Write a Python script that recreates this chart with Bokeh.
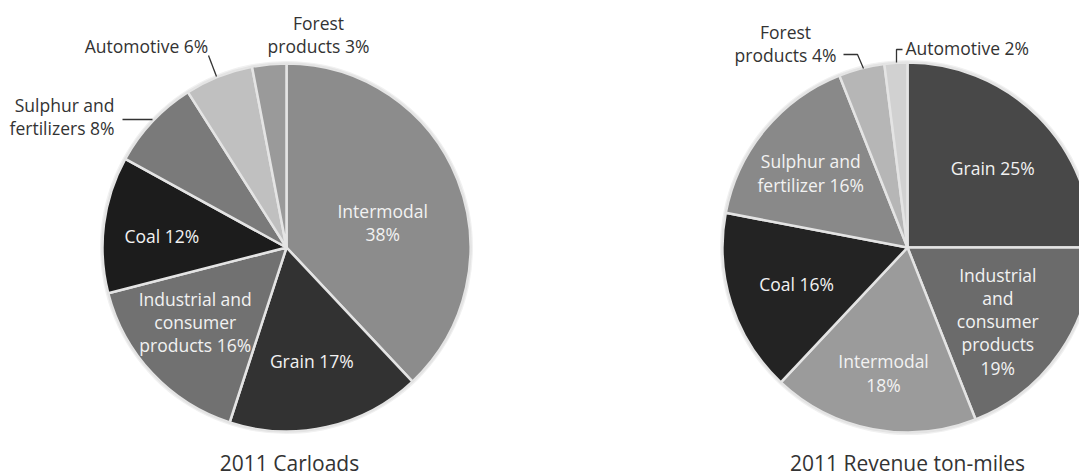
import numpy as np
from bokeh.plotting import figure
from bokeh.models import Range1d
from bokeh.core.properties import value
from bokeh.embed import file_html
from bokeh.resources import INLINE

W, H = 1079, 476

# ---------------- data ----------------
car_categories = ["Intermodal", "Grain", "Industrial and consumer products", "Coal",
                  "Sulphur and fertilizers", "Automotive", "Forest products"]
car_values = [38, 17, 16, 12, 8, 6, 3]
car_labels = ["Intermodal\n38%", "Grain 17%", "Industrial and\nconsumer\nproducts 16%", "Coal 12%",
              "Sulphur and\nfertilizers 8%", "Automotive 6%", "Forest\nproducts 3%"]
car_title = "2011 Carloads"

rtm_categories = ["Grain", "Industrial and consumer products", "Intermodal", "Coal",
                  "Sulphur and fertilizer", "Forest products", "Automotive"]
rtm_values = [25, 19, 18, 16, 16, 4, 2]
rtm_labels = ["Grain 25%", "Industrial\nand\nconsumer\nproducts\n19%", "Intermodal\n18%", "Coal 16%",
              "Sulphur and\nfertilizer 16%", "Forest\nproducts 4%", "Automotive 2%"]
rtm_title = "2011 Revenue ton-miles"

# ---------------- styles / layout ----------------
car_colors = ["#8c8c8c", "#323232", "#717171", "#1c1c1c", "#7a7a7a", "#c0c0c0", "#9a9a9a"]
rtm_colors = ["#484848", "#6b6b6b", "#9b9b9b", "#232323", "#898989", "#b6b6b6", "#d1d1d1"]

FONT = "Open Sans"
LH = 0.97
FS = "17.5px"

p = figure(width=W, height=H, x_range=Range1d(0, W), y_range=Range1d(0, H),
           output_backend="svg", toolbar_location=None, min_border=0,
           x_axis_type=None, y_axis_type=None)
p.xgrid.visible = False
p.ygrid.visible = False
p.outline_line_color = None
p.background_fill_color = "white"
p.border_fill_color = "white"


def Y(ypx):
    return H - np.asarray(ypx, dtype=float)


def draw_pie(cx, cy, R, vals, colors, labels, n_inner, fracs, tweaks):
    v = np.array(vals, dtype=float)
    frac = v / v.sum()
    cum = np.concatenate([[0.0], np.cumsum(frac)])
    start = np.pi / 2 - 2 * np.pi * cum[1:]
    end = np.pi / 2 - 2 * np.pi * cum[:-1]
    # soft halo
    p.circle(x=[cx], y=Y([cy]), radius=R + 2.5, fill_color="#f1f1f1", line_color=None)
    p.wedge(x=cx, y=Y(cy), radius=R, start_angle=start, end_angle=end,
            fill_color=colors, line_color="#e4e4e4", line_width=2.5)
    mid = (cum[:-1] + cum[1:]) / 2 * 360.0
    th = np.radians(mid[:n_inner] + np.array(tweaks))
    f = np.array(fracs)
    lx = cx + f * R * np.sin(th)
    ly = cy - f * R * np.cos(th)
    p.text(x=lx, y=Y(ly), text=labels[:n_inner], text_align="center", text_baseline="middle",
           text_font=value(FONT), text_font_size=FS, text_color="#f2f2f2",
           text_line_height=LH)


# Left pie
draw_pie(286, 247, 184, car_values, car_colors, car_labels, 4,
         [0.54, 0.63, 0.64, 0.68], [7, 0, 4, -2])
# Right pie
draw_pie(907, 247, 185, rtm_values, rtm_colors, rtm_labels, 5,
         [0.63, 0.63, 0.69, 0.63, 0.66], [2, 5, 0, 0, -2])

outer_style = dict(text_font=value(FONT), text_font_size=FS, text_color="#333333",
                   text_line_height=LH, text_baseline="middle")
# left outer labels
p.text(x=[114], y=Y([116]), text=[car_labels[4]], text_align="right", **outer_style)
p.text(x=[146], y=Y([45]), text=[car_labels[5]], text_align="center", **outer_style)
p.text(x=[318], y=Y([34]), text=[car_labels[6]], text_align="center", **outer_style)
# right outer labels
p.text(x=[785], y=Y([43]), text=[rtm_labels[5]], text_align="center", **outer_style)
p.text(x=[905], y=Y([47]), text=[rtm_labels[6]], text_align="left", **outer_style)

# leader lines
lead = dict(line_color="#333333", line_width=1.3)
p.line(x=[122, 152], y=Y([119, 119]), **lead)
p.line(x=[208, 216], y=Y([55, 76]), **lead)
p.line(x=[843, 857, 863], y=Y([54, 54, 68]), **lead)
p.line(x=[902, 896, 896], y=Y([49, 49, 62]), **lead)

# titles
title_style = dict(text_font=value(FONT), text_font_size="21px", text_color="#333333",
                   text_align="center", text_baseline="middle")
p.text(x=[289], y=Y([462]), text=[car_title], **title_style)
p.text(x=[907], y=Y([462]), text=[rtm_title], **title_style)

open("out.html", "w").write(file_html(p, INLINE))
